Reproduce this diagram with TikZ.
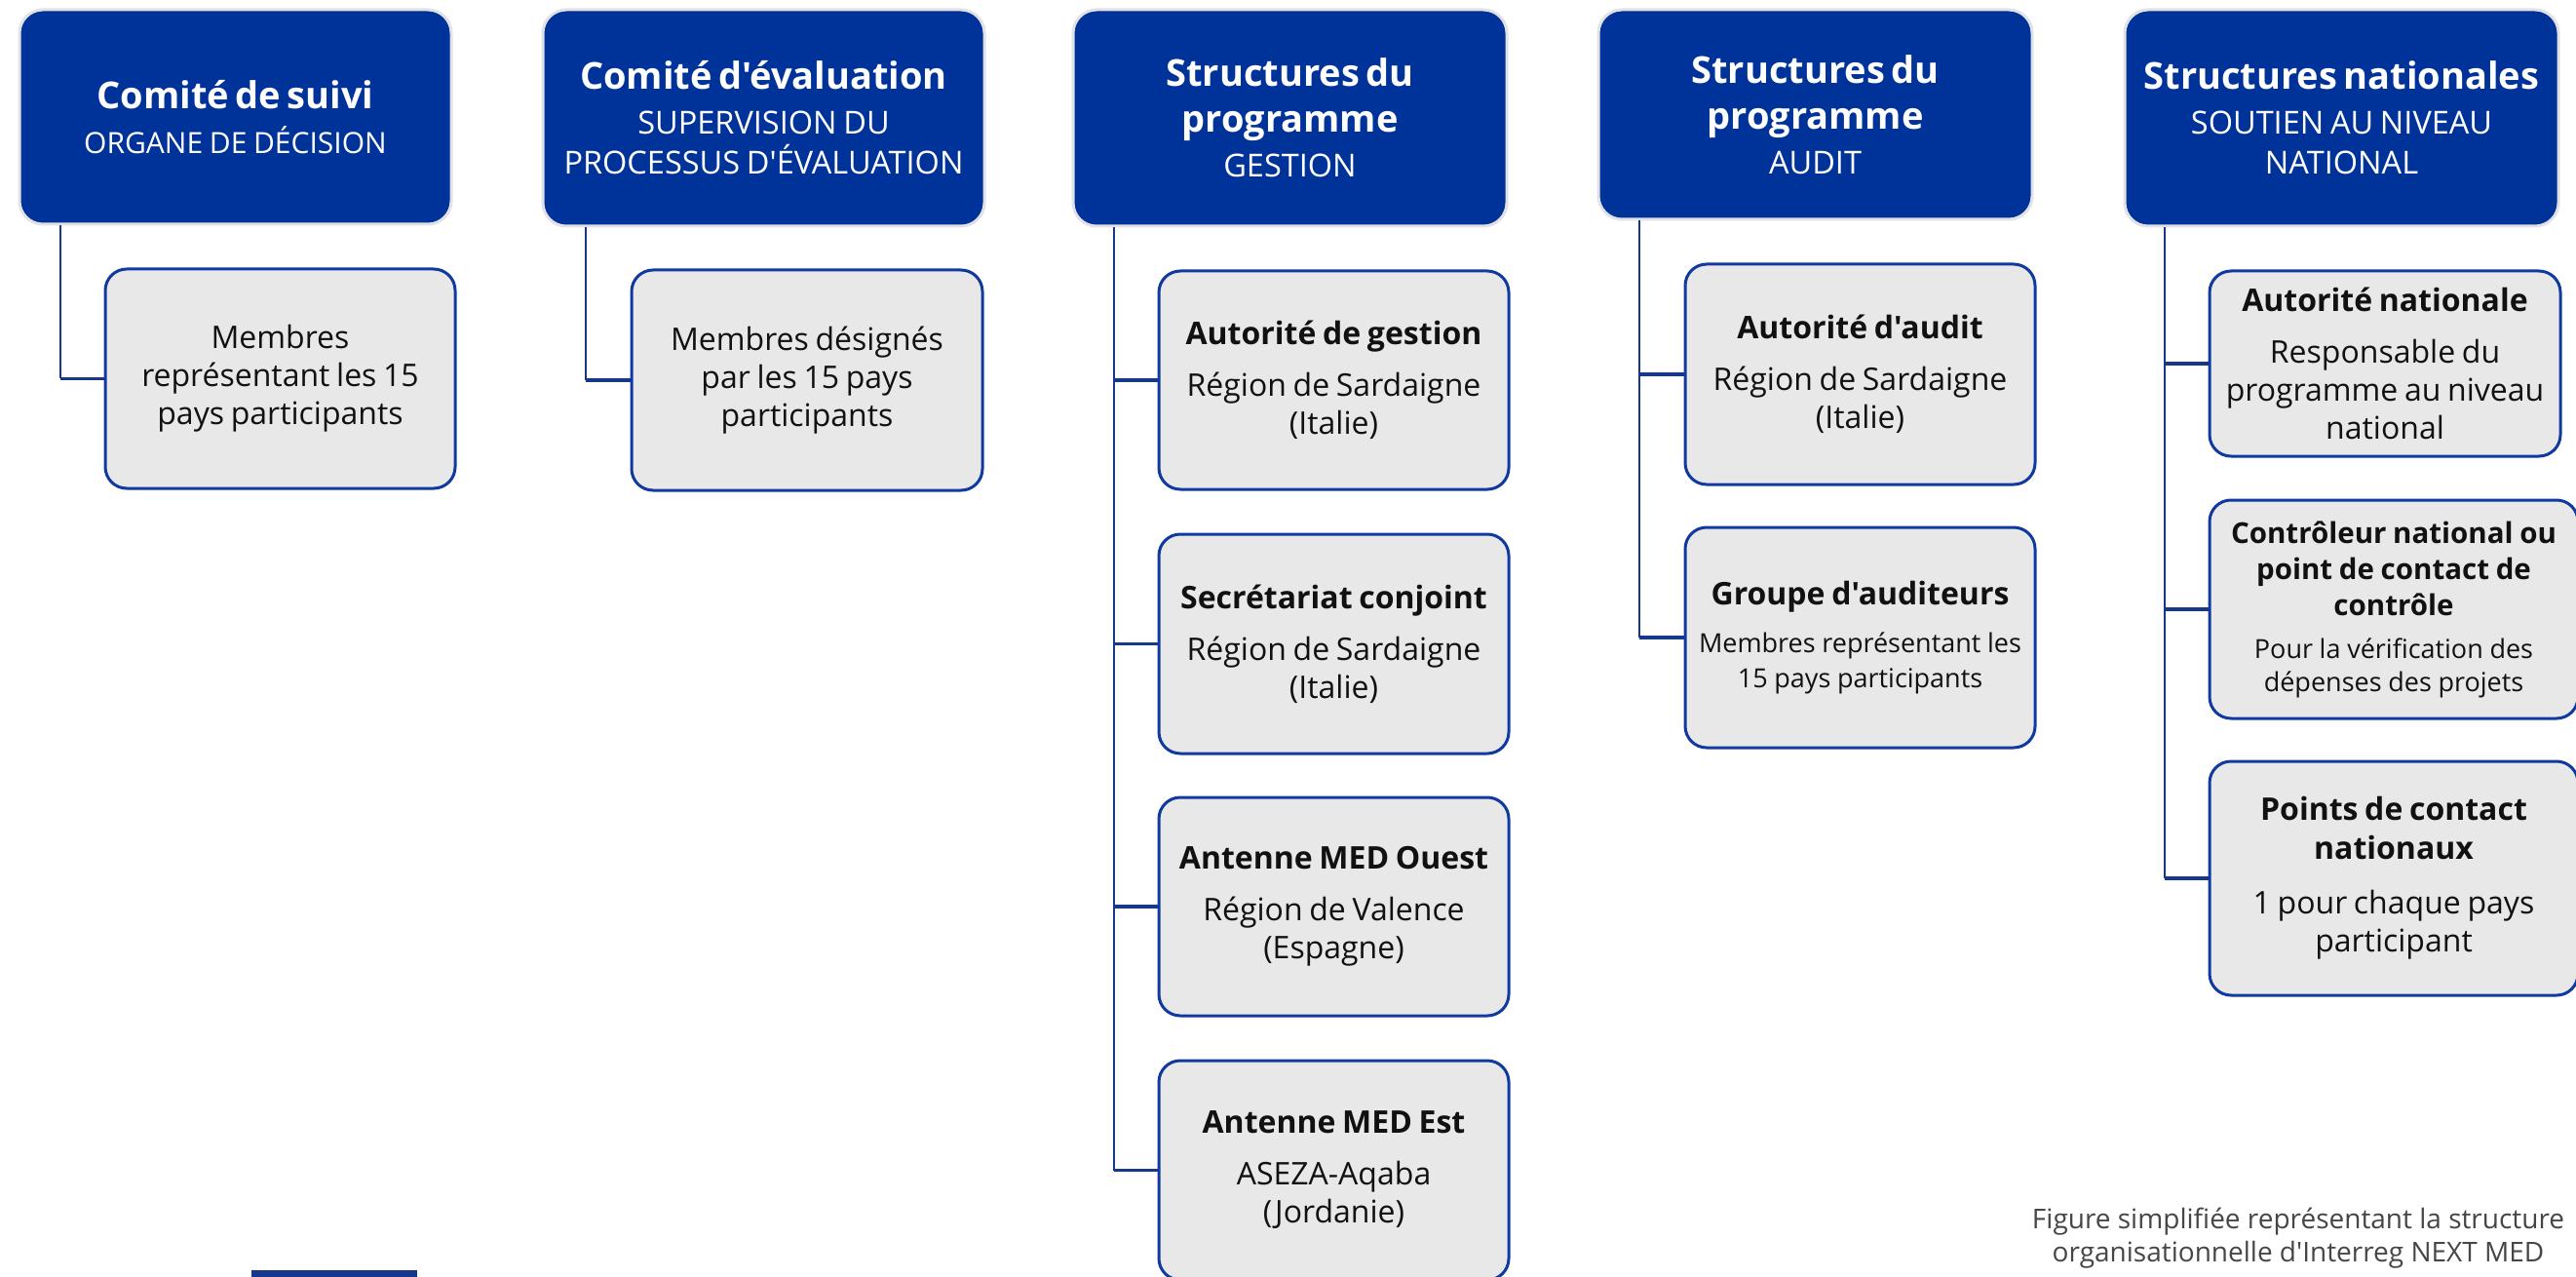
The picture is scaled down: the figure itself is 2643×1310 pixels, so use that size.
\documentclass[tikz,border=0pt]{standalone}
\usepackage{fontspec}
\setmainfont{Open Sans}[Ligatures=TeXOff]
\definecolor{hblue}{RGB}{0,51,153}
\definecolor{hring}{RGB}{226,226,230}
\definecolor{kgray}{RGB}{232,232,232}
\definecolor{kblue}{RGB}{16,58,160}
\definecolor{cblue}{RGB}{22,56,140}
\definecolor{ktext}{RGB}{17,17,17}
\definecolor{captxt}{RGB}{70,70,70}
\newcommand\Htitle[1]{{\fontsize{19}{23.5}\selectfont\bfseries #1\par}}
\newcommand\Hsub[2][16.25]{\vspace{2.5pt}{\fontsize{#1}{20.5}\selectfont #2\par}}
\newcommand\Ktitle[1]{{\fontsize{16}{19}\selectfont\bfseries #1\par}}
\newcommand\Kbody[1]{\vspace{7pt}{\fontsize{16}{19.5}\selectfont #1\par}}
\newcommand\Kplain[1]{{\fontsize{16}{19.5}\selectfont #1\par}}
\begin{document}
\begin{tikzpicture}[x=0.5pt,y=-0.5pt]
\tikzset{
  hdr/.style={rounded corners=12pt, fill=hblue, draw=hring, line width=1.5pt,
    text=white, align=center, inner sep=0pt, text width=218pt},
  kid/.style={rounded corners=11pt, fill=kgray, draw=kblue, line width=1.5pt,
    text=ktext, align=center, inner sep=0pt, text width=174pt},
  conn/.style={draw=cblue, line width=1pt},
  stub/.style={draw=cblue, line width=1.6pt},
}
\useasboundingbox (0,0) rectangle (2643,1310);
\fill[white] (0,0) rectangle (2643,1310);

% headers
\node[hdr, minimum width=221.5pt, minimum height=110pt] (H1) at (241.5,120)
  {\Htitle{Comité de suivi}\Hsub[15]{ORGANE DE DÉCISION}};
\node[hdr, minimum width=226.5pt, minimum height=111pt] (H2) at (783.5,121)
  {\Htitle{Comité d'évaluation}\Hsub{SUPERVISION DU\\PROCESSUS D'ÉVALUATION}};
\node[hdr, minimum width=222.5pt, minimum height=111pt] (H3) at (1323.5,121)
  {\Htitle{Structures du\\programme}\Hsub{GESTION}};
\node[hdr, minimum width=222.5pt, minimum height=107.5pt] (H4) at (1862.5,117.5)
  {\Htitle{Structures du\\programme}\Hsub{AUDIT}};
\node[hdr, minimum width=222.5pt, minimum height=111pt] (H5) at (2402.5,121)
  {\Htitle{Structures nationales}\Hsub{SOUTIEN AU NIVEAU\\NATIONAL}};

% children
\node[kid, minimum width=179.5pt, minimum height=112.5pt] (C1) at (287.5,388.5)
  {\Kplain{Membres\\représentant les 15\\pays participants}};
\node[kid, minimum width=180pt, minimum height=113pt] (C2) at (828,390)
  {\Kplain{Membres désignés\\par les 15 pays\\participants}};

\node[kid, minimum width=179.5pt, minimum height=112pt] (G1) at (1368.5,390)
  {\Ktitle{Autorité de gestion}\Kbody{Région de Sardaigne\\(Italie)}};
\node[kid, minimum width=179.5pt, minimum height=112.5pt] (G2) at (1368.5,660.5)
  {\Ktitle{Secrétariat conjoint}\Kbody{Région de Sardaigne\\(Italie)}};
\node[kid, minimum width=179.5pt, minimum height=112pt] (G3) at (1368.5,930)
  {\Ktitle{Antenne MED Ouest}\Kbody{Région de Valence\\(Espagne)}};
\node[kid, minimum width=179.5pt, minimum height=112.5pt] (G4) at (1368.5,1200.5)
  {\Ktitle{Antenne MED Est}\Kbody{ASEZA-Aqaba\\(Jordanie)}};

\node[kid, minimum width=179.5pt, minimum height=113pt] (A1) at (1908.5,384)
  {\Ktitle{Autorité d'audit}\Kbody{Région de Sardaigne\\(Italie)}};
\node[kid, minimum width=179.5pt, minimum height=113pt] (A2) at (1908.5,654)
  {\Ktitle{Groupe d'auditeurs}\vspace{6.5pt}{\fontsize{13.5}{18}\selectfont Membres représentant les\\15 pays participants\par}};

\node[kid, minimum width=180pt, minimum height=95pt] (N1) at (2447,373)
  {\Ktitle{Autorité nationale}\Kbody{Responsable du\\programme au niveau\\national}};
\node[kid, minimum width=189pt, minimum height=112pt, text width=184pt] (N2) at (2456,625)
  {{\fontsize{14.75}{18.5}\selectfont\bfseries Contrôleur national ou\\point de contact de\\contrôle\par}\vspace{5pt}{\fontsize{13.5}{17}\selectfont Pour la vérification des\\dépenses des projets\par}};
\node[kid, minimum width=189pt, minimum height=120pt, text width=184pt] (N3) at (2456,901)
  {{\fontsize{16}{20}\selectfont\bfseries Points de contact\\nationaux\par}\vspace{8.5pt}\Kplain{1 pour chaque pays\\participant}};

% connectors
\coordinate (v1) at ([xshift=-22.5pt]C1.west);
\draw[conn] (v1 |- H1.south) -- (v1);
\draw[stub] (v1) -- (C1.west);

\coordinate (v2) at ([xshift=-23pt]C2.west);
\draw[conn] (v2 |- H2.south) -- (v2);
\draw[stub] (v2) -- (C2.west);

\coordinate (vg) at ([xshift=-22.5pt]G1.west);
\draw[conn] (vg |- H3.south) -- (vg |- G4.west);
\draw[stub] (vg |- G1.west) -- (G1.west);
\draw[stub] (vg |- G2.west) -- (G2.west);
\draw[stub] (vg |- G3.west) -- (G3.west);
\draw[stub] (vg |- G4.west) -- (G4.west);

\coordinate (va) at ([xshift=-23pt]A1.west);
\draw[conn] (va |- H4.south) -- (va |- A2.west);
\draw[stub] (va |- A1.west) -- (A1.west);
\draw[stub] (va |- A2.west) -- (A2.west);

\coordinate (vn) at ([xshift=-22.5pt]N1.west);
\draw[conn] (vn |- H5.south) -- (vn |- N3.west);
\draw[stub] (vn |- N1.west) -- (N1.west);
\draw[stub] (vn |- N2.west) -- (N2.west);
\draw[stub] (vn |- N3.west) -- (N3.west);

% caption
\node[align=center, text=captxt, font=\fontsize{14}{17}\selectfont, inner sep=0pt] (cap) at (2358,1270)
  {Figure simplifiée représentant la structure\\organisationnelle d'Interreg NEXT MED};

% small bar bottom left
\fill[cblue] (258,1303) rectangle (428,1310);
\end{tikzpicture}
\end{document}
